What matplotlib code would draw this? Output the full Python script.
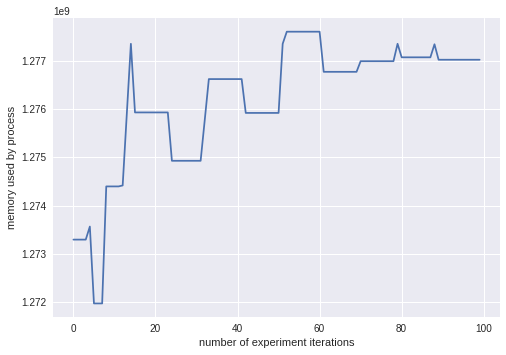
import matplotlib
matplotlib.use('Agg')
import matplotlib.pyplot as plt

plt.style.use('seaborn-v0_8')

# memory readings per iteration (values in units of 1e9 bytes)
iterations = list(range(100))
memory_e9 = (
    [1.27330] * 4 + [1.27357] + [1.27198] * 3 + [1.27440] * 4 + [1.27442]
    + [1.27589] + [1.27735] + [1.27593] * 9 + [1.27493] * 8 + [1.27577]
    + [1.27662] * 9 + [1.27592] * 9 + [1.27735] + [1.27760] * 9
    + [1.27677] * 9 + [1.27699] * 9 + [1.27735] + [1.27707] * 8
    + [1.27734] + [1.27702] * 11
)
memory = [m * 1e9 for m in memory_e9]

dpi = 72
fig = plt.figure(figsize=(506 / dpi, 355 / dpi), dpi=dpi)
ax = fig.add_axes([0.105, 0.107, 0.883, 0.842])
ax.plot(iterations, memory)

ax.set_xlabel('number of experiment iterations')
ax.set_ylabel('memory used by process')

fig.savefig('out.png', dpi=dpi)
